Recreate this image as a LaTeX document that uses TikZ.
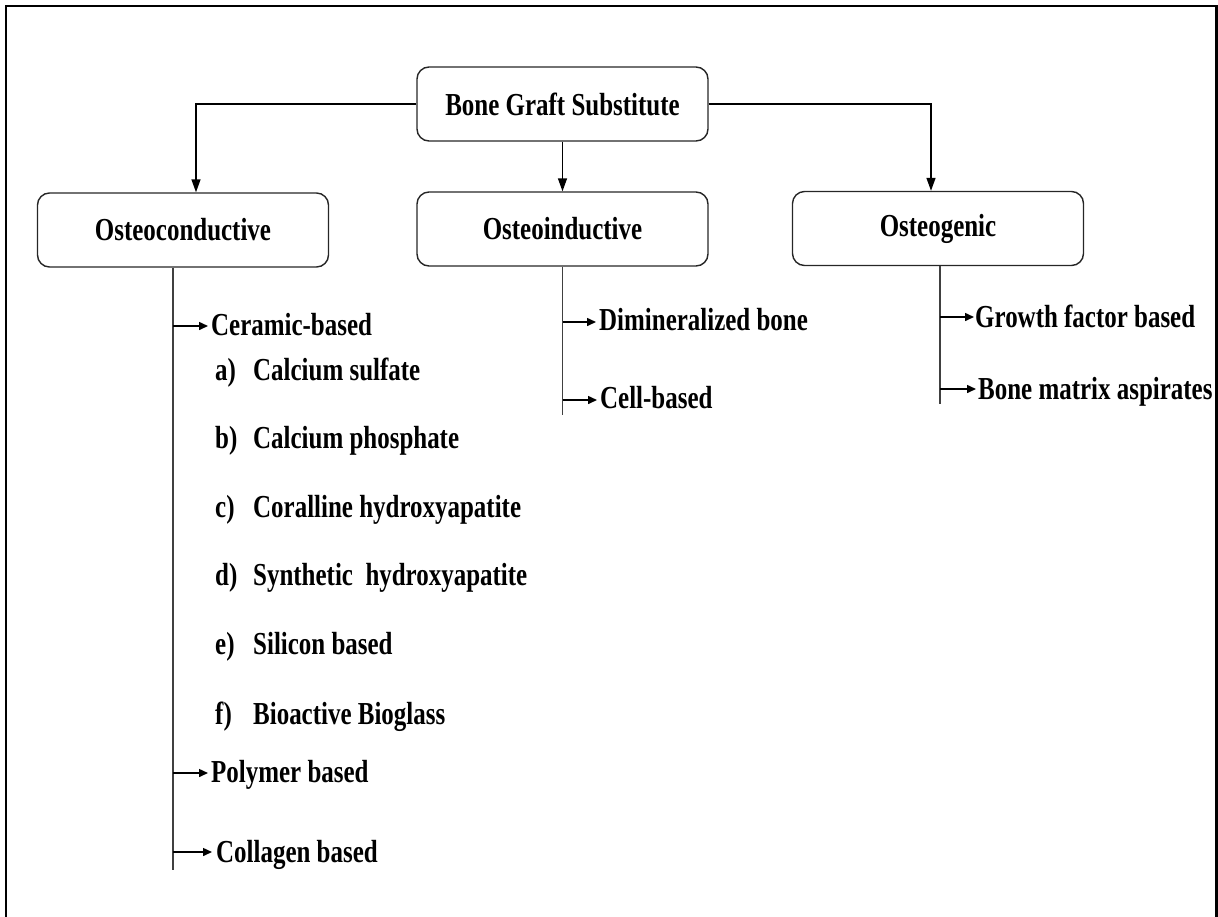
\documentclass[tikz,border=0pt]{standalone}
\usepackage{fontspec}
\setmainfont{Liberation Serif}
\newfontfamily\narrowserif[FakeStretch=0.78]{Liberation Serif}
\usetikzlibrary{arrows.meta}
\begin{document}
\begin{tikzpicture}[x=1pt,y=-1pt,
  box/.style={draw=black!85, line width=1.4pt, rounded corners=12pt, minimum width=291pt, minimum height=74pt, inner sep=0pt,
    font=\narrowserif\bfseries\fontsize{32}{36}\selectfont},
  lbl/.style={anchor=base west, inner sep=0pt, font=\narrowserif\bfseries\fontsize{32}{36}\selectfont},
  conn/.style={line width=1.4pt, -{Triangle[length=13pt,width=9pt]}},
  trunk/.style={line width=1.6pt, black!75},
  sarr/.style={line width=1.5pt, -{Triangle[length=9pt,width=8pt]}}
]
\useasboundingbox (0,0) rectangle (1218,916);
\draw[line width=2.5pt] (6,930) -- (6,6) -- (1216.5,6) -- (1216.5,930);

% boxes
\node[box] (bgs) at (562.5,104) {Bone Graft Substitute};
\node[box] (oc) at (183,230) {Osteoconductive};
\node[box] (oi) at (562.5,229) {Osteoinductive};
\node[box] (og) at (938,228.5) {Osteogenic};

% top connectors
\draw[conn] (bgs.west) -| ([xshift=13pt]oc.north);
\draw[conn] (bgs.south) -- (oi.north);
\draw[conn] (bgs.east) -| ([xshift=-7pt]og.north);

% trunks
\coordinate (ocend) at (173,870);
\coordinate (oiend) at (562.5,415);
\coordinate (ogend) at (940,404);
\draw[trunk] (oc.south -| ocend) -- (ocend);
\draw[trunk] (oi.south -| oiend) -- (oiend);
\draw[trunk] (og.south -| ogend) -- (ogend);

% Osteoconductive list
\node[lbl] (cer) at (211,335) {Ceramic-based};
\node[lbl] (ia) at (215,380) {\makebox[38pt][l]{a)}Calcium sulfate};
\node[lbl] (ib) at (215,448) {\makebox[38pt][l]{b)}Calcium phosphate};
\node[lbl] (ic) at (215,517) {\makebox[38pt][l]{c)}Coralline hydroxyapatite};
\node[lbl] (id) at (215,585) {\makebox[38pt][l]{d)}Synthetic\ \ hydroxyapatite};
\node[lbl] (ie) at (215,654) {\makebox[38pt][l]{e)}Silicon based};
\node[lbl] (if) at (215,724) {\makebox[38pt][l]{f)}Bioactive Bioglass};
\node[lbl] (pol) at (211,782) {Polymer based};
\node[lbl] (col) at (216,862) {Collagen based};
\coordinate (cerA) at ([xshift=-3pt,yshift=9pt]cer.base west);
\coordinate (polA) at ([xshift=-3pt,yshift=9pt]pol.base west);
\coordinate (colA) at ([xshift=-4pt,yshift=10pt]col.base west);
\draw[sarr] (ocend |- cerA) -- (cerA);
\draw[sarr] (ocend |- polA) -- (polA);
\draw[sarr] (ocend |- colA) -- (colA);

% Osteoinductive list
\node[lbl] (dim) at (599,330) {Dimineralized bone};
\node[lbl] (cell) at (600,408) {Cell-based};
\coordinate (dimA) at ([xshift=-3pt,yshift=8pt]dim.base west);
\coordinate (cellA) at ([xshift=-3pt,yshift=8pt]cell.base west);
\draw[sarr] (oiend |- dimA) -- (dimA);
\draw[sarr] (oiend |- cellA) -- (cellA);

% Osteogenic list
\node[lbl] (gro) at (975,327) {Growth factor based};
\node[lbl] (bma) at (978,399) {Bone matrix aspirates};
\coordinate (groA) at ([xshift=-1pt,yshift=10pt]gro.base west);
\coordinate (bmaA) at ([xshift=-2pt,yshift=10pt]bma.base west);
\draw[sarr] (ogend |- groA) -- (groA);
\draw[sarr] (ogend |- bmaA) -- (bmaA);
\end{tikzpicture}
\end{document}
